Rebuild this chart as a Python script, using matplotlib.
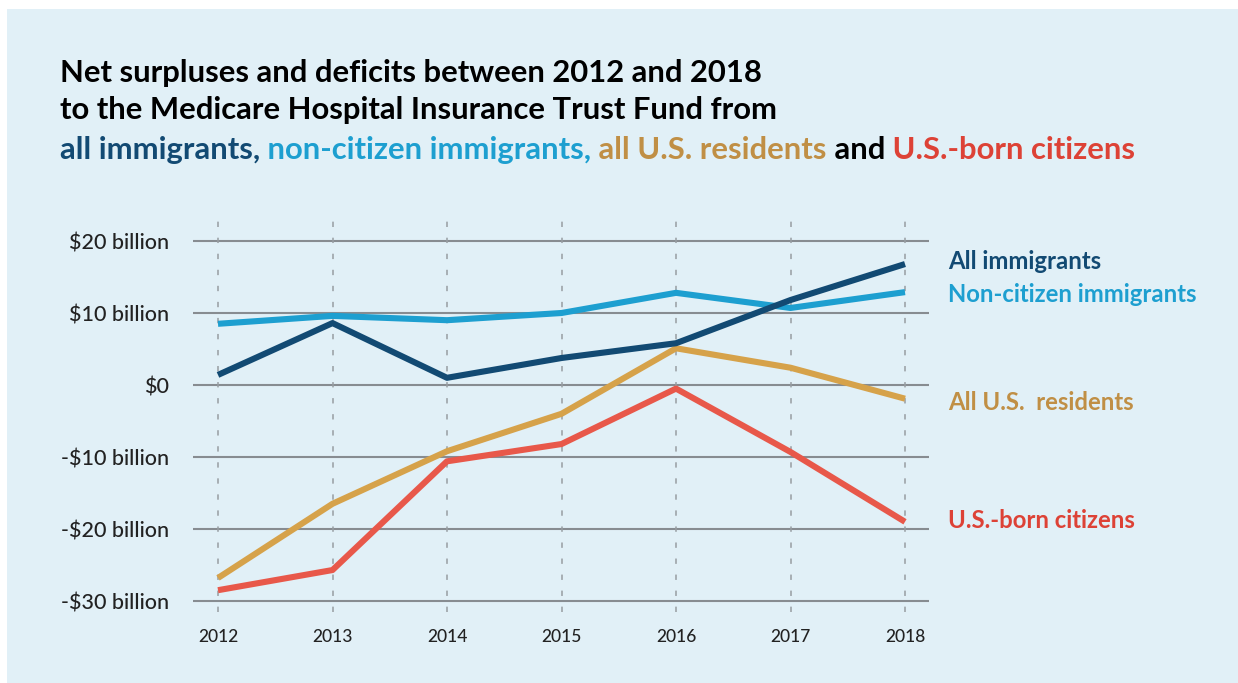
import matplotlib
matplotlib.use("Agg")
import matplotlib.pyplot as plt
from matplotlib.patches import Rectangle

years = [2012, 2013, 2014, 2015, 2016, 2017, 2018]
all_immigrants = [1.4, 8.6, 1.0, 3.75, 5.8, 11.8, 16.8]
non_citizen = [8.5, 9.6, 9.0, 10.0, 12.8, 10.7, 12.9]
all_residents = [-26.8, -16.5, -9.2, -4.0, 5.1, 2.4, -1.9]
us_born = [-28.5, -25.7, -10.6, -8.2, -0.5, -9.3, -19.0]
ytick_vals = [20, 10, 0, -10, -20, -30]
ytick_labels = ["$20 billion", "$10 billion", "$0", "-$10 billion", "-$20 billion", "-$30 billion"]
series_labels = ["All immigrants", "Non-citizen immigrants", "All U.S.  residents", "U.S.-born citizens"]

C_NAVY = "#124a73"
C_LIGHT = "#1d9fd0"
C_GOLD = "#d6a24a"
C_GOLD_T = "#c08f45"
C_RED = "#e8584a"
C_RED_T = "#dd4236"
BG = "#e1f0f7"

W, H = 1238, 683
fig = plt.figure(figsize=(W / 100, H / 100), dpi=100)
fig.patch.set_facecolor("white")
fig.patches.append(Rectangle((7 / W, 0), 1, 1 - 9 / H, transform=fig.transFigure,
                             facecolor=BG, edgecolor="none", zorder=-5))

ax = fig.add_axes([193 / W, 1 - 612 / H, (929 - 193) / W, (612 - 213) / H])
ax.set_facecolor("none")
ax.set_xlim(2012 - 25 / 114.5, 2018 + 24 / 114.5)
ax.set_ylim(-30 - 11 / 7.2, 20 + 28 / 7.2)
for s in ax.spines.values():
    s.set_visible(False)

for v in ytick_vals:
    ax.axhline(v, color="#878c91", lw=1.5, zorder=1)
for yr in years:
    ax.axvline(yr, color="#979da2", lw=1.1, ls=(0, (3.5, 7)), zorder=1)

lw = 4.4
ax.plot(years, non_citizen, color=C_LIGHT, lw=lw, solid_capstyle="butt", zorder=3)
ax.plot(years, all_immigrants, color=C_NAVY, lw=lw, solid_capstyle="butt", zorder=4)
ax.plot(years, all_residents, color=C_GOLD, lw=lw, solid_capstyle="butt", zorder=3)
ax.plot(years, us_born, color=C_RED, lw=lw, solid_capstyle="butt", zorder=4)

ax.set_yticks(ytick_vals)
ax.set_yticklabels(ytick_labels, fontsize=15.5, fontfamily="Lato", fontweight="medium", color="#222222")
ax.set_xticks(years)
ax.set_xticklabels([str(y) for y in years], fontsize=12.5, fontfamily="Lato", fontweight="medium", color="#222222")
ax.tick_params(axis="y", length=0, pad=17)
ax.tick_params(axis="x", length=0, pad=12)

# right-side labels
lab_y = [262, 295, 403, 520]
lab_c = [C_NAVY, C_LIGHT, C_GOLD_T, C_RED_T]
for t, yy, c in zip(series_labels, lab_y, lab_c):
    fig.text(948 / W, 1 - yy / H, t, color=c, fontsize=17.2, fontweight="bold",
             fontfamily="Lato", va="center", ha="left")

# title
tfs = 22.3
fig.text(60 / W, 1 - 73 / H, "Net surpluses and deficits between 2012 and 2018",
         fontsize=tfs, fontweight="bold", fontfamily="Lato", color="black", va="center")
fig.text(60 / W, 1 - 110 / H, "to the Medicare Hospital Insurance Trust Fund from",
         fontsize=tfs, fontweight="bold", fontfamily="Lato", color="black", va="center")

parts = [("all immigrants,", C_NAVY), (" non-citizen immigrants,", C_LIGHT),
         (" all U.S. residents", C_GOLD_T), (" and", "black"), (" U.S.-born citizens", C_RED_T)]
fig.canvas.draw()
r = fig.canvas.get_renderer()
x = 60
for t, c in parts:
    tx = fig.text(x / W, 1 - 150 / H, t, fontsize=tfs, fontweight="bold",
                  fontfamily="Lato", color=c, va="center")
    bb = tx.get_window_extent(renderer=r)
    x += bb.width

fig.savefig("out.png", dpi=100, facecolor=fig.get_facecolor())
